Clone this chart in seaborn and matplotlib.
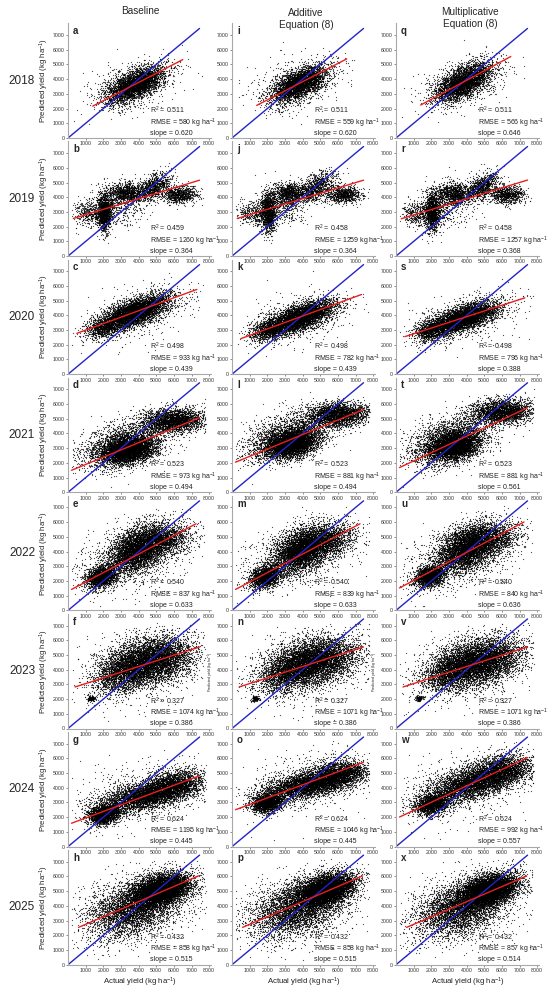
import numpy as np
import pandas as pd
import matplotlib
matplotlib.use('Agg')
import matplotlib.pyplot as plt
import seaborn as sns

sns.set_style('ticks')
plt.rcParams['font.family'] = ['Liberation Sans', 'DejaVu Sans']
plt.rcParams['mathtext.default'] = 'regular'

# ---- data ----
years = ['2018', '2019', '2020', '2021', '2022', '2023', '2024', '2025']
methods = ['Baseline', 'Additive\nEquation (8)', 'Multiplicative\nEquation (8)']
letters = [list('abcdefgh'), list('ijklmnop'), list('qrstuvwx')]

r2_base = [0.511, 0.459, 0.498, 0.523, 0.540, 0.327, 0.624, 0.432]
r2_add = [0.511, 0.458, 0.498, 0.523, 0.540, 0.327, 0.624, 0.432]
r2_mul = [0.511, 0.458, 0.498, 0.523, 0.540, 0.327, 0.624, 0.432]

rmse_base = [580, 1260, 933, 973, 837, 1074, 1195, 858]
rmse_add = [559, 1259, 782, 881, 839, 1071, 1046, 858]
rmse_mul = [566, 1257, 796, 881, 840, 1071, 992, 857]

slope_base = [0.620, 0.364, 0.439, 0.494, 0.633, 0.386, 0.445, 0.515]
slope_add = [0.620, 0.364, 0.439, 0.494, 0.633, 0.386, 0.445, 0.515]
slope_mul = [0.646, 0.368, 0.388, 0.561, 0.636, 0.386, 0.557, 0.514]

# fitted (red) line: intercept and x-range
icpt_base = [1300, 2450, 2560, 1400, 1300, 2670, 1500, 2230]
icpt_add = [1350, 2450, 2200, 1950, 1300, 2670, 2420, 2230]
icpt_mul = [1340, 2430, 2360, 1570, 1400, 2670, 1900, 2230]
fit_x0 = [1400, 300, 500, 200, 200, 400, 200, 600]
fit_x1 = [6500, 7450, 7300, 7450, 7250, 7450, 7450, 7400]

# point clouds, described as clusters (cx, cy, sx, sy, rho, n)
clouds_base = [
    [(3800, 3650, 800, 620, 0.6, 3500), (3800, 3650, 1300, 950, 0.4, 500)],
    [(2050, 3000, 220, 650, 0.0, 1300), (1200, 2900, 450, 400, 0.0, 400), (3300, 4300, 500, 350, 0.0, 900),
     (4800, 4700, 500, 500, 0.5, 900), (6300, 4200, 500, 300, 0.0, 800), (2800, 3500, 700, 700, 0.0, 500)],
    [(3800, 4230, 1000, 600, 0.65, 4500), (2000, 3200, 500, 400, 0.3, 800), (4000, 4200, 1700, 1000, 0.4, 400)],
    [(3400, 2850, 750, 480, 0.3, 4000), (6000, 4900, 900, 420, 0.1, 2500), (3000, 3300, 1300, 850, 0.5, 2200)],
    [(1900, 2300, 450, 380, 0.3, 1800), (4000, 4200, 850, 800, 0.4, 4500), (5500, 4800, 800, 600, 0.3, 1200),
     (3500, 3500, 1800, 1200, 0.4, 800)],
    [(4700, 4600, 1200, 800, 0.3, 5500), (3000, 3800, 800, 700, 0.3, 1500), (1300, 2050, 110, 100, 0.0, 120),
     (4000, 4000, 2000, 1300, 0.3, 600)],
    [(2000, 2200, 450, 330, 0.2, 1800), (4500, 3500, 1400, 600, 0.6, 4500), (6000, 4300, 800, 500, 0.2, 1500),
     (4000, 3500, 2000, 1200, 0.3, 500)],
    [(5300, 5100, 800, 550, 0.4, 6000), (3700, 3900, 1300, 1000, 0.4, 4000), (4000, 4000, 2000, 1400, 0.3, 600)],
]
clouds_add = [
    [(3800, 3700, 780, 620, 0.6, 3500), (3800, 3700, 1300, 950, 0.4, 500)],
    [(2050, 3000, 220, 650, 0.0, 1300), (1200, 2900, 450, 400, 0.0, 400), (3300, 4300, 500, 350, 0.0, 900),
     (4800, 4700, 500, 500, 0.5, 900), (6300, 4200, 500, 300, 0.0, 800), (2800, 3500, 700, 700, 0.0, 500)],
    [(3800, 3870, 1000, 580, 0.65, 4500), (2000, 3000, 500, 400, 0.3, 800), (4000, 3900, 1700, 1000, 0.4, 400)],
    [(3400, 3300, 750, 480, 0.3, 4000), (6000, 5300, 900, 420, 0.1, 2500), (3000, 3800, 1300, 850, 0.5, 2200)],
    [(1900, 2300, 450, 380, 0.3, 1800), (4000, 4200, 850, 800, 0.4, 4500), (5500, 4800, 800, 600, 0.3, 1200),
     (3500, 3500, 1800, 1200, 0.4, 800)],
    [(4700, 4600, 1200, 800, 0.3, 5500), (3000, 3800, 800, 700, 0.3, 1500), (1300, 2050, 110, 100, 0.0, 120),
     (4000, 4000, 2000, 1300, 0.3, 600)],
    [(2000, 3000, 450, 330, 0.2, 1800), (4500, 4300, 1400, 550, 0.6, 4500), (6000, 5000, 800, 500, 0.2, 1500),
     (4000, 4200, 2000, 1200, 0.3, 500)],
    [(5300, 5100, 800, 550, 0.4, 6000), (3700, 3900, 1300, 1000, 0.4, 4000), (4000, 4000, 2000, 1400, 0.3, 600)],
]
clouds_mul = [
    [(3800, 3800, 780, 650, 0.6, 3500), (3800, 3800, 1300, 950, 0.4, 500)],
    [(2050, 3000, 220, 650, 0.0, 1300), (1200, 2900, 450, 400, 0.0, 400), (3300, 4300, 500, 350, 0.0, 900),
     (4800, 4700, 500, 500, 0.5, 900), (6300, 4200, 500, 300, 0.0, 800), (2800, 3500, 700, 700, 0.0, 500)],
    [(3800, 3830, 1000, 560, 0.65, 4500), (2000, 3000, 500, 400, 0.3, 800), (4000, 3800, 1700, 1000, 0.4, 400)],
    [(3300, 3150, 750, 480, 0.3, 4000), (6000, 5500, 900, 420, 0.1, 2500), (3000, 3600, 1300, 900, 0.5, 2200)],
    [(1900, 2350, 450, 380, 0.3, 1800), (4000, 4250, 850, 800, 0.4, 4500), (5500, 4900, 800, 600, 0.3, 1200),
     (3500, 3500, 1800, 1200, 0.4, 800)],
    [(4700, 4600, 1200, 800, 0.3, 5500), (3000, 3800, 800, 700, 0.3, 1500), (1300, 2050, 110, 100, 0.0, 120),
     (4000, 4000, 2000, 1300, 0.3, 600)],
    [(2000, 2900, 500, 380, 0.2, 1700), (4500, 4400, 1400, 700, 0.6, 4500), (6000, 5300, 800, 500, 0.2, 1500),
     (4000, 4200, 2000, 1300, 0.3, 500)],
    [(5300, 5100, 800, 550, 0.4, 6000), (3700, 3900, 1300, 1000, 0.4, 4000), (4000, 4000, 2000, 1400, 0.3, 600)],
]

r2_all = [r2_base, r2_add, r2_mul]
rmse_all = [rmse_base, rmse_add, rmse_mul]
slope_all = [slope_base, slope_add, slope_mul]
icpt_all = [icpt_base, icpt_add, icpt_mul]
clouds_all = [clouds_base, clouds_add, clouds_mul]

xticks = [1000, 2000, 3000, 4000, 5000, 6000, 7000, 8000]
yticks = [0, 1000, 2000, 3000, 4000, 5000, 6000, 7000]

# the cloud points themselves cannot be read one by one, they are drawn from the cluster descriptions
rng = np.random.default_rng(8)


def make_cloud(clusters):
    xs, ys = [], []
    for cx, cy, sx, sy, rho, n in clusters:
        z1 = rng.standard_normal(n)
        z2 = rng.standard_normal(n)
        xs.append(cx + sx * z1)
        ys.append(cy + sy * (rho * z1 + np.sqrt(1 - rho ** 2) * z2))
    df = pd.DataFrame({'actual': np.concatenate(xs), 'pred': np.concatenate(ys)})
    df = df[(df.actual > 200) & (df.actual < 7800) & (df.pred > 300) & (df.pred < 7200)]
    return df


W, H = 550, 992
fig = plt.figure(figsize=(W / 100, H / 100), dpi=100)

col_left = [68, 232, 396]
ax_w = 143
ax_h = 114.7
row_zero = [138 + 118.1 * i for i in range(8)]

for c in range(3):
    for r in range(8):
        ax = fig.add_axes([col_left[c] / W, 1 - row_zero[r] / H, ax_w / W, ax_h / H])
        ax.patch.set_alpha(0)
        df = make_cloud(clouds_all[c][r])
        sns.scatterplot(data=df, x='actual', y='pred', ax=ax, s=0.8, color='black',
                        linewidth=0, alpha=0.7, rasterized=True)
        ax.plot([0, 7450], [0, 7450], color='#2323c8', lw=1.0)
        fx = np.array([fit_x0[r], fit_x1[r]])
        ax.plot(fx, icpt_all[c][r] + slope_all[c][r] * fx, color='#e8201f', lw=1.0)

        ax.set_xlim(0, 8100)
        ax.set_ylim(0, 7800)
        ax.set_xticks(xticks)
        ax.set_yticks(yticks)
        ax.tick_params(labelsize=3.8, colors='#333333', length=1.2, width=0.4, pad=1.2)
        sns.despine(ax=ax)
        for s in ['left', 'bottom']:
            ax.spines[s].set_color('#a8a8a8')
            ax.spines[s].set_linewidth(0.8)

        ax.set_xlabel('')
        ax.set_ylabel('')
        if c == 0:
            ax.set_ylabel('Predicted yield (kg ha$^{-1}$)', fontsize=5.6, color='#222222')
            ax.yaxis.set_label_coords(-0.12, 0.5)
        elif r == 5:
            ax.set_ylabel('Predicted yield (kg ha$^{-1}$)', fontsize=2.6, color='#222222')
            ax.yaxis.set_label_coords(-0.11, 0.5)
        if r == 7:
            ax.set_xlabel('Actual yield (kg ha$^{-1}$)', fontsize=5.6, color='#222222')
            ax.xaxis.set_label_coords(0.5, -0.1)

        ax.text(0.035, 0.975, letters[c][r], transform=ax.transAxes, fontsize=7,
                fontweight='bold', va='top', ha='left')
        stats = ('R$^2$ = {:.3f}\nRMSE = {} kg ha$^{{-1}}$\nslope = {:.3f}'
                 .format(r2_all[c][r], rmse_all[c][r], slope_all[c][r]))
        ax.text(0.57, 0.012, stats, transform=ax.transAxes, fontsize=5.0,
                va='bottom', ha='left', linespacing=1.02, color='#222222')

        if c == 0:
            fig.text(22 / W, 1 - (row_zero[r] - ax_h / 2) / H, years[r], fontsize=8.5,
                     ha='center', va='center')

title_y = [11, 19, 18]
title_x = [140, 306, 470]
for c in range(3):
    fig.text(title_x[c] / W, 1 - title_y[c] / H, methods[c], fontsize=7.2,
             ha='center', va='center', linespacing=1.3)

fig.savefig('out.png', dpi=100)
